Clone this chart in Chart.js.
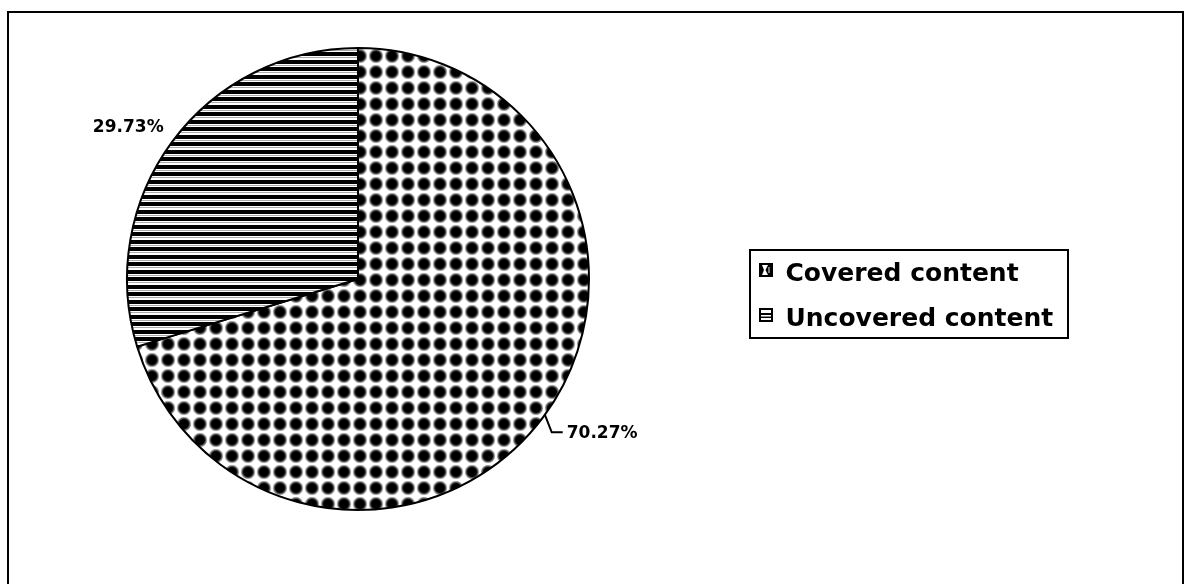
<!DOCTYPE html>
<html>
<head>
<meta charset="utf-8">
<title>Content coverage</title>
<script src="https://cdn.jsdelivr.net/npm/chart.js@4.4.0/dist/chart.umd.min.js"></script>
<style>
  html, body { margin: 0; padding: 0; background: #fff; overflow: hidden; }
  #wrap { position: relative; width: 1189px; height: 584px; }
  #frame { position: absolute; left: 7px; top: 11px; width: 1177px; height: 620px; border: 2px solid #000; box-sizing: border-box; }
  #chart { position: absolute; left: 0; top: 0; }
</style>
</head>
<body>
<div id="wrap">
  <div id="frame"></div>
  <canvas id="chart" width="1189" height="584"></canvas>
</div>
<script>
const categories = ['Covered content', 'Uncovered content'];
const shares = [70.27, 29.73];
const shareLabels = shares.map(v => v.toFixed(2) + '%');

// dotted fill for the covered slice
function dotPattern(ctx) {
  const c = document.createElement('canvas');
  c.width = 16; c.height = 16;
  const g = c.getContext('2d');
  g.fillStyle = '#fff';
  g.fillRect(0, 0, 16, 16);
  const grad = g.createRadialGradient(8, 8, 0, 8, 8, 7.6);
  grad.addColorStop(0, '#000');
  grad.addColorStop(0.58, '#000');
  grad.addColorStop(0.8, 'rgba(0,0,0,0.55)');
  grad.addColorStop(1, 'rgba(0,0,0,0)');
  g.fillStyle = grad;
  g.beginPath();
  g.arc(8, 8, 7.6, 0, Math.PI * 2);
  g.fill();
  return ctx.createPattern(c, 'repeat');
}

// horizontal stripes for the uncovered slice
function stripePattern(ctx) {
  const c = document.createElement('canvas');
  c.width = 8; c.height = 15;
  const g = c.getContext('2d');
  g.fillStyle = '#fff';
  g.fillRect(0, 0, 8, 15);
  g.fillStyle = '#000';
  g.fillRect(0, 0, 8, 4);
  g.fillRect(0, 7, 8, 4);
  g.fillStyle = '#aaa';
  g.fillRect(0, 5, 8, 1);
  g.fillRect(0, 12, 8, 1);
  return ctx.createPattern(c, 'repeat');
}

// legend markers: box sits in the top 14px so it rides a bit above the text middle
function markerCovered() {
  const c = document.createElement('canvas');
  c.width = 14; c.height = 22;
  const g = c.getContext('2d');
  g.fillStyle = '#000';
  g.fillRect(0, 0, 14, 14);
  g.fillStyle = '#fff';
  g.beginPath();
  g.moveTo(3, 2); g.lineTo(9, 2); g.lineTo(6.5, 7); g.lineTo(9, 12); g.lineTo(3, 12); g.lineTo(5, 7);
  g.closePath();
  g.fill();
  g.fillStyle = '#777';
  g.fillRect(9, 4, 2, 6);
  return c;
}

function markerUncovered() {
  const c = document.createElement('canvas');
  c.width = 14; c.height = 22;
  const g = c.getContext('2d');
  g.fillStyle = '#fff';
  g.fillRect(0, 0, 14, 14);
  g.strokeStyle = '#000';
  g.lineWidth = 2;
  g.strokeRect(1, 1, 12, 12);
  g.fillStyle = '#000';
  g.fillRect(2, 5, 10, 2);
  g.fillRect(2, 9, 10, 1);
  g.fillStyle = '#888';
  g.fillRect(2, 8, 10, 1);
  return c;
}

const ctx = document.getElementById('chart').getContext('2d');
const markers = [markerCovered(), markerUncovered()];

// move the legend next to the pie and draw its frame
const legendBox = {
  id: 'legendBox',
  afterLayout(chart) {
    const lg = chart.legend;
    const w = lg.width, h = lg.height;
    lg.left = 739; lg.top = 241.5;
    lg.right = lg.left + w; lg.bottom = lg.top + h;
  },
  afterDraw(chart) {
    const c = chart.ctx;
    c.save();
    c.strokeStyle = '#000';
    c.lineWidth = 2;
    c.strokeRect(750, 250, 318, 88);
    c.restore();
  }
};

// percentage labels outside the slices
const sliceLabels = {
  id: 'sliceLabels',
  afterDatasetsDraw(chart) {
    const c = chart.ctx;
    const arcs = chart.getDatasetMeta(0).data;
    c.save();
    c.font = 'bold 17px "DejaVu Sans"';
    c.fillStyle = '#000';
    c.strokeStyle = '#000';
    c.lineWidth = 2;
    c.textBaseline = 'alphabetic';
    arcs.forEach((arc, i) => {
      const mid = (arc.startAngle + arc.endAngle) / 2;
      const ex = arc.x + Math.cos(mid) * arc.outerRadius;
      const ey = arc.y + Math.sin(mid) * arc.outerRadius;
      if (Math.cos(mid) > 0) {
        const bx = ex + 8, by = ey + 16;
        c.beginPath();
        c.moveTo(ex + 1, ey - 2);
        c.lineTo(bx, by);
        c.lineTo(bx + 11, by);
        c.stroke();
        c.textAlign = 'left';
        c.fillText(shareLabels[i], bx + 15, by + 6);
      } else {
        c.textAlign = 'center';
        c.fillText(shareLabels[i], ex - 44, ey - 10);
      }
    });
    c.restore();
  }
};

new Chart(ctx, {
  type: 'pie',
  data: {
    labels: categories,
    datasets: [{
      data: shares,
      backgroundColor: [dotPattern(ctx), stripePattern(ctx)],
      borderColor: '#000',
      borderWidth: 2
    }]
  },
  options: {
    responsive: false,
    animation: false,
    events: [],
    layout: { padding: { left: 126, right: 599, top: 47, bottom: 73 } },
    plugins: {
      tooltip: { enabled: false },
      legend: {
        position: 'chartArea',
        align: 'start',
        labels: {
          color: '#000',
          font: { family: '"DejaVu Sans"', size: 25, weight: 'bold' },
          usePointStyle: true,
          boxWidth: 14,
          boxHeight: 14,
          padding: 20,
          generateLabels: chart => categories.map((name, i) => ({
            text: name,
            fillStyle: '#fff',
            strokeStyle: '#000',
            lineWidth: 0,
            pointStyle: markers[i],
            hidden: false,
            index: i
          }))
        }
      }
    }
  },
  plugins: [legendBox, sliceLabels]
});
</script>
</body>
</html>
